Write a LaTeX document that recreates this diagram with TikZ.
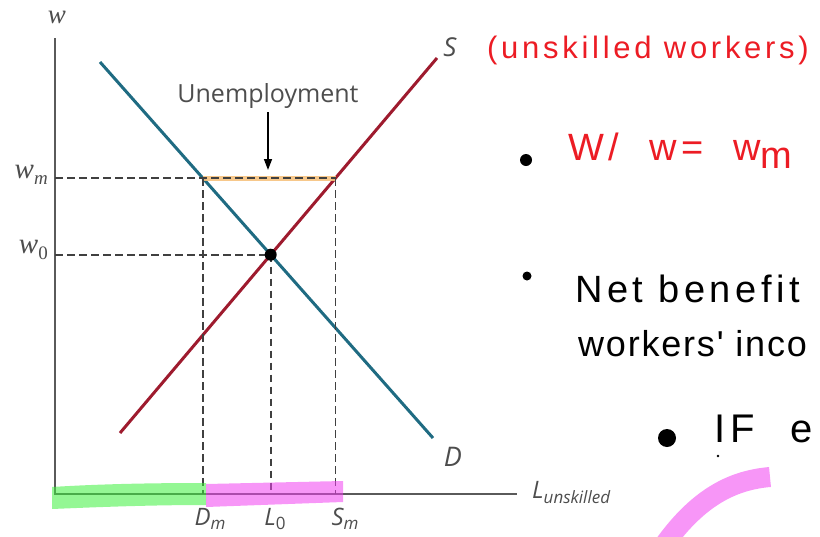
\documentclass[tikz,border=0pt]{standalone}
\usepackage{fontspec}
\setmainfont{Open Sans}
\newfontfamily\handfont[LetterSpace=12]{Liberation Sans}
\newfontfamily\inkfont[LetterSpace=5]{Liberation Sans}
\newfontfamily\serifit{Liberation Serif}
\usetikzlibrary{arrows.meta, positioning}

\definecolor{demandblue}{HTML}{1F6B82}
\definecolor{supplyred}{HTML}{9E1B2E}
\definecolor{axisgray}{HTML}{5A5A5A}
\definecolor{labelgray}{HTML}{4D4D4D}
\definecolor{penred}{HTML}{EC1C24}
\definecolor{hlorange}{HTML}{F6C27E}
\definecolor{hlgreen}{HTML}{3CF03C}
\definecolor{hlpink}{HTML}{F040F0}

\begin{document}
\begin{tikzpicture}[x=1pt, y=-1pt,
    axis/.style={draw=axisgray, line width=1.8pt},
    curve/.style={line width=3pt},
    guide/.style={draw=black!75, line width=1.7pt, dash pattern=on 7.5pt off 4.5pt},
    lab/.style={font=\fontsize{24}{25}\selectfont\itshape, text=labelgray, inner sep=1pt},
    wlab/.style={font=\fontsize{29}{30}\selectfont\serifit\itshape, text=labelgray, inner sep=1pt},
    pen/.style={font=\fontsize{31}{34}\selectfont\handfont, inner sep=0pt, anchor=base west},
    hilite/.style={opacity=0.55}
]
\useasboundingbox (0,0) rectangle (820,536);
\clip (0,0) rectangle (820,536);

% axes
\coordinate (origin) at (55,494);
\coordinate (y_top) at (55,38);
\coordinate (x_end) at (517,494);
\draw[axis] (y_top) -- (origin) -- (x_end);
\node[wlab, font=\fontsize{27}{28}\selectfont\serifit\itshape] (w_axis) at (57,17) {w};
\node[lab, anchor=base west] (l_axis) at (531,498) {L\raisebox{-5pt}{\fontsize{17}{18}\selectfont unskilled}};

% demand and supply
\coordinate (dem_top) at (100,62);
\coordinate (dem_bot) at (433,438);
\coordinate (sup_bot) at (120,433);
\coordinate (sup_top) at (437,58);
\draw[curve, demandblue] (dem_top) -- (dem_bot);
\draw[curve, supplyred] (sup_bot) -- (sup_top);
\node[lab, font=\fontsize{26}{27}\selectfont\itshape] (s_lab) at (450,47) {S};
\node[lab, font=\fontsize{27}{28}\selectfont\itshape] (d_lab) at (453,457) {D};

% wage levels
\coordinate (eq) at (270.7,254.7);
\coordinate (wm_d) at (202.7,178);
\coordinate (wm_s) at (335.6,178);
\coordinate (wm_ax) at (55,178);
\coordinate (w0_ax) at (55,254.7);
\coordinate (dm_ax) at (202.7,494);
\coordinate (l0_ax) at (270.7,494);
\coordinate (sm_ax) at (335.6,494);
\draw[hlorange, line width=5pt, opacity=0.9] (wm_d) -- (wm_s);
\draw[guide] (wm_ax) -- (wm_s);
\draw[guide] (w0_ax) -- (eq);
\draw[guide] (wm_d) -- (dm_ax);
\draw[guide] (eq) -- (l0_ax);
\draw[guide] (wm_s) -- (sm_ax);
\fill (eq) circle (6pt);

\node[wlab, anchor=east] (wm_lab) at (49,175) {w\raisebox{-6pt}{\fontsize{19}{20}\selectfont m}};
\node[wlab, anchor=east] (w0_lab) at (49,250) {w\raisebox{-6pt}{\fontsize{19}{20}\selectfont\upshape 0}};
\node[lab, anchor=base] (dm_lab) at (210,525) {D\raisebox{-4pt}{\fontsize{17}{18}\selectfont m}};
\node[lab, anchor=base] (l0_lab) at (275,525) {L\raisebox{-4pt}{\fontsize{17}{18}\selectfont\upshape 0}};
\node[lab, anchor=base] (sm_lab) at (345,525) {S\raisebox{-4pt}{\fontsize{17}{18}\selectfont m}};

% unemployment gap
\node[font=\fontsize{25}{28}\selectfont, text=labelgray] (unemp) at (268,96) {Unemployment};
\coordinate (gap_mid) at (268,170);
\draw[-{Triangle[length=11pt, width=8pt]}, line width=1.5pt] (unemp) -- (gap_mid);

% highlighter marks
\fill[hlgreen, hilite] (52,487) .. controls (100,484) and (150,483) .. (206,483)
    -- (206,505) .. controls (150,505) and (100,507) .. (52,509) -- cycle;
\fill[hlpink, hilite] (206,484) -- (343,481) -- (343,502) -- (206,507) -- cycle;
\draw[hlpink, hilite, line width=20pt] (664,545) .. controls (700,495) and (735,480) .. (770,477);

% handwritten notes
\node[pen, text=penred] (note_title) at (487,58) {(unskilled workers)};
\fill (526,160) circle (6pt);
\node[pen, text=penred, font=\fontsize{38}{40}\selectfont\handfont] (note_wm) at (568,160)
    {W/\hspace{30pt}w=\hspace{30pt}w\raisebox{-8pt}{m}};
\fill (527,276) circle (4.5pt);
\node[pen, font=\fontsize{38}{42}\selectfont\handfont] (note_net) at (575,302) {Net benefit};
\node[pen, font=\fontsize{36}{40}\selectfont\inkfont] (note_inc) at (578,356) {workers' inco};
\fill (667,438) circle (9pt);
\fill (718,456) circle (1.3pt);
\node[pen, font=\fontsize{40}{42}\selectfont\handfont] (note_if) at (714,442) {IF\hspace{36pt}e};

\end{tikzpicture}
\end{document}
